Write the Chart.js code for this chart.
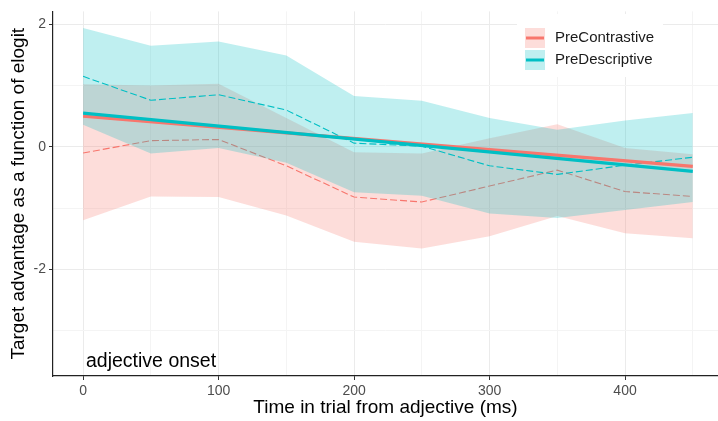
<!DOCTYPE html>
<html>
<head>
<meta charset="utf-8">
<script src="https://cdn.jsdelivr.net/npm/chart.js@4.4.1/dist/chart.umd.min.js"></script>
<style>
  html, body { margin: 0; padding: 0; background: #ffffff; }
  #wrap { width: 718px; height: 421px; position: relative; }
</style>
</head>
<body>
<div id="wrap"><canvas id="c" width="718" height="421"></canvas></div>
<script>
// ---- data ----
const times = [0, 50, 100, 150, 200, 250, 300, 350, 400, 450];

const contrastiveMean  = [-0.10, 0.10, 0.12, -0.31, -0.82, -0.90, -0.64, -0.38, -0.73, -0.81];
const contrastiveUpper = [1.02, 1.00, 1.03, 0.47, -0.09, -0.11, 0.14, 0.37, -0.02, -0.12];
const contrastiveLower = [-1.20, -0.81, -0.82, -1.12, -1.55, -1.66, -1.46, -1.13, -1.41, -1.49];

const descriptiveMean  = [1.15, 0.76, 0.85, 0.60, 0.06, 0.01, -0.31, -0.45, -0.30, -0.17];
const descriptiveUpper = [1.94, 1.65, 1.72, 1.49, 0.83, 0.75, 0.47, 0.28, 0.43, 0.55];
const descriptiveLower = [0.36, -0.11, -0.02, -0.26, -0.74, -0.80, -1.09, -1.16, -1.03, -0.90];

const fitTimes = [0, 450];
const contrastiveFit = [0.50, -0.32];
const descriptiveFit = [0.55, -0.40];

const seriesNames = ['PreContrastive', 'PreDescriptive'];
const xTickValues = [0, 50, 100, 150, 200, 250, 300, 350, 400, 450];
const xTickLabels = [0, 100, 200, 300, 400];
const yTickValues = [-3, -2, -1, 0, 1, 2];
const yTickLabels = [-2, 0, 2];
const annotationText = 'adjective onset';

// ---- styles ----
const RED = '#F8766D';
const CYAN = '#00BFC4';
const RED_FILL = 'rgba(248,118,109,0.25)';
const CYAN_FILL = 'rgba(0,191,196,0.25)';
const FONT = '"Liberation Sans", Arial, sans-serif';

const pts = (xs, ys) => xs.map((x, i) => ({ x: x, y: ys[i] }));

const datasets = [
  { label: 'cFit', data: pts(fitTimes, contrastiveFit), borderColor: RED, borderWidth: 3.2, order: 1, fill: false },
  { label: 'dFit', data: pts(fitTimes, descriptiveFit), borderColor: CYAN, borderWidth: 3.2, order: 0, fill: false },
  { label: 'dUpper', data: pts(times, descriptiveUpper), borderWidth: 0, borderColor: 'rgba(0,0,0,0)', backgroundColor: CYAN_FILL, fill: '+1', order: 3 },
  { label: 'dLower', data: pts(times, descriptiveLower), borderWidth: 0, borderColor: 'rgba(0,0,0,0)', fill: false, order: 3 },
  { label: 'dMean', data: pts(times, descriptiveMean), borderColor: CYAN, borderWidth: 1.1, borderDash: [7, 3], fill: false, order: 2 },
  { label: 'cUpper', data: pts(times, contrastiveUpper), borderWidth: 0, borderColor: 'rgba(0,0,0,0)', backgroundColor: RED_FILL, fill: '+1', order: 5 },
  { label: 'cLower', data: pts(times, contrastiveLower), borderWidth: 0, borderColor: 'rgba(0,0,0,0)', fill: false, order: 5 },
  { label: 'cMean', data: pts(times, contrastiveMean), borderColor: RED, borderWidth: 1.1, borderDash: [7, 3], fill: false, order: 4 }
];

const overlayPlugin = {
  id: 'overlay',
  afterDraw(chart) {
    const ctx = chart.ctx;
    ctx.save();
    // legend
    const lx = 517, ly = 14, lw = 146, lh = 63;
    ctx.fillStyle = '#ffffff';
    ctx.fillRect(lx, ly, lw, lh);
    const keys = [
      { fill: RED_FILL, line: RED, y: 28 },
      { fill: CYAN_FILL, line: CYAN, y: 50 }
    ];
    keys.forEach((k, i) => {
      ctx.fillStyle = k.fill;
      ctx.fillRect(525, k.y, 20, 20);
      ctx.strokeStyle = k.line;
      ctx.lineWidth = 3;
      ctx.beginPath();
      ctx.moveTo(526, k.y + 10);
      ctx.lineTo(544, k.y + 10);
      ctx.stroke();
      ctx.fillStyle = '#1a1a1a';
      ctx.font = '15px ' + FONT;
      ctx.textAlign = 'left';
      ctx.textBaseline = 'middle';
      ctx.fillText(seriesNames[i], 555, k.y + 10);
    });
    // annotation
    ctx.fillStyle = '#000000';
    ctx.font = '19.5px ' + FONT;
    ctx.textAlign = 'left';
    ctx.textBaseline = 'middle';
    ctx.fillText(annotationText, 86, 362);
    ctx.restore();
  }
};

new Chart(document.getElementById('c'), {
  type: 'line',
  data: { datasets: datasets },
  plugins: [overlayPlugin],
  options: {
    responsive: false,
    animation: false,
    parsing: true,
    layout: { padding: { top: 7, right: 0, left: 0, bottom: 0 } },
    elements: { point: { radius: 0, hoverRadius: 0 }, line: { tension: 0 } },
    plugins: { legend: { display: false }, tooltip: { enabled: false }, filler: { propagate: false } },
    scales: {
      x: {
        type: 'linear',
        min: -22.2,
        max: 468.6,
        afterBuildTicks: (s) => { s.ticks = xTickValues.map(v => ({ value: v })); },
        afterFit: (s) => { s.height = 45; },
        ticks: {
          autoSkip: false,
          maxRotation: 0,
          color: '#4D4D4D',
          font: { family: FONT, size: 14 },
          padding: 3,
          callback: (v) => xTickLabels.includes(v) ? String(v) : ''
        },
        grid: {
          color: (c) => (c.tick && xTickLabels.includes(c.tick.value)) ? '#EBEBEB' : '#F4F4F4',
          lineWidth: 1,
          tickLength: 4,
          tickColor: (c) => (c.tick && xTickLabels.includes(c.tick.value)) ? '#333333' : 'rgba(0,0,0,0)'
        },
        border: { display: true, color: '#222222', width: 1.2 },
        title: {
          display: true,
          text: 'Time in trial from adjective (ms)',
          color: '#000000',
          font: { family: FONT, size: 19 },
          padding: { top: 0, bottom: 1.5 }
        }
      },
      y: {
        type: 'linear',
        min: -3.74,
        max: 2.21,
        afterBuildTicks: (s) => { s.ticks = yTickValues.map(v => ({ value: v })); },
        afterFit: (s) => { s.width = 53; },
        ticks: {
          autoSkip: false,
          color: '#4D4D4D',
          font: { family: FONT, size: 14 },
          padding: 3,
          callback: (v) => yTickLabels.includes(v) ? String(v) : ''
        },
        grid: {
          color: (c) => (c.tick && yTickLabels.includes(c.tick.value)) ? '#EBEBEB' : '#F4F4F4',
          lineWidth: 1,
          tickLength: 4,
          tickColor: (c) => (c.tick && yTickLabels.includes(c.tick.value)) ? '#333333' : 'rgba(0,0,0,0)'
        },
        border: { display: true, color: '#222222', width: 1.2 },
        title: {
          display: true,
          text: 'Target advantage as a function of elogit',
          color: '#000000',
          font: { family: FONT, size: 19 },
          padding: { top: 7, bottom: 0 }
        }
      }
    }
  }
});
</script>
</body>
</html>
